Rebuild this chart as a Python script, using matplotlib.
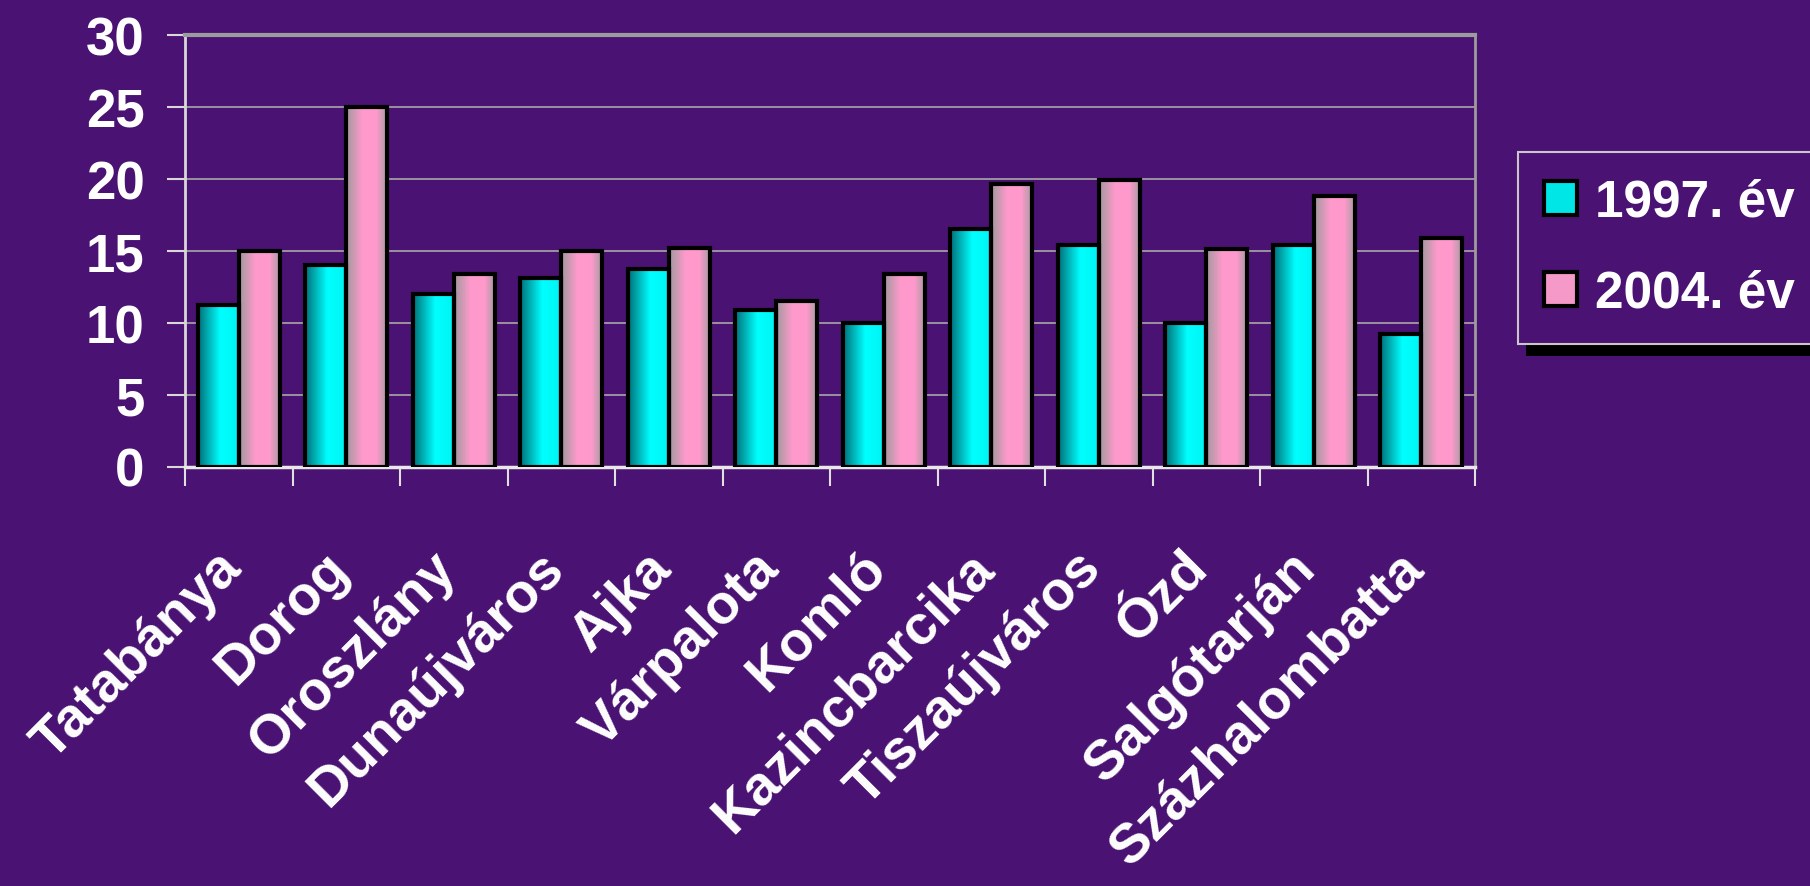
import numpy as np
import matplotlib.pyplot as plt
from matplotlib.patches import Rectangle
from matplotlib.colors import LinearSegmentedColormap
from matplotlib.ticker import MultipleLocator
from matplotlib.transforms import ScaledTranslation

# data
cities = ['Tatabánya', 'Dorog', 'Oroszlány', 'Dunaújváros', 'Ajka', 'Várpalota',
          'Komló', 'Kazincbarcika', 'Tiszaújváros', 'Ózd', 'Salgótarján', 'Százhalombatta']
y1997 = [11.2, 14.0, 12.0, 13.1, 13.7, 10.9, 10.0, 16.5, 15.4, 10.0, 15.4, 9.2]
y2004 = [15.0, 25.0, 13.4, 15.0, 15.2, 11.5, 13.4, 19.6, 19.9, 15.1, 18.8, 15.9]
series = ['1997. év', '2004. év']

BG = '#4a1272'
font = ['Liberation Sans', 'DejaVu Sans']

cyan_map = LinearSegmentedColormap.from_list(
    'cy', [(0, '#007078'), (0.55, '#00ffff'), (1, '#00f4f4')])
pink_map = LinearSegmentedColormap.from_list(
    'pk', [(0, '#a09a9c'), (0.4, '#ff99cc'), (0.75, '#ff99cc'), (1, '#a89ca2')])

fig = plt.figure(figsize=(18.1, 8.87), dpi=100, facecolor=BG)
ax = fig.add_axes([185 / 1810, 1 - 467.5 / 887, (1475 - 185) / 1810, (467.5 - 35.8) / 887])
ax.set_facecolor('none')

x = np.arange(len(cities))
w = 0.38
b1 = ax.bar(x - w / 2, y1997, w, facecolor='none', edgecolor='black', linewidth=3,
            zorder=3, label=series[0])
b2 = ax.bar(x + w / 2, y2004, w, facecolor='none', edgecolor='black', linewidth=3,
            zorder=3, label=series[1])

grad = np.linspace(0, 1, 64).reshape(1, -1)
for bars, cmap in [(b1, cyan_map), (b2, pink_map)]:
    for b in bars:
        x0, y0, bw, bh = b.get_x(), b.get_y(), b.get_width(), b.get_height()
        im = ax.imshow(grad, cmap=cmap, extent=(x0, x0 + bw, y0, y0 + bh),
                       aspect='auto', zorder=2, interpolation='bicubic')
        im.set_clip_path(b)

ax.set_xlim(-0.5, len(cities) - 0.5)
ax.set_ylim(0, 30)
ax.yaxis.set_major_locator(MultipleLocator(5))
ax.grid(axis='y', color='#a8a8a8', linewidth=1.2, zorder=1)
ax.set_axisbelow(True)

ax.spines['top'].set_color('#9c9c9c')
ax.spines['top'].set_linewidth(3)
ax.spines['right'].set_color('#9c9c9c')
ax.spines['right'].set_linewidth(2)
ax.spines['left'].set_color('#d8d8d8')
ax.spines['left'].set_linewidth(2)
ax.spines['bottom'].set_color('#e8e8e8')
ax.spines['bottom'].set_linewidth(2.5)

ax.tick_params(axis='y', length=13, width=1.5, color='#d8d8d8', pad=16,
               labelcolor='white')
for t in ax.get_yticklabels():
    t.set_fontfamily(font)
    t.set_fontsize(38)
    t.set_fontweight('bold')

# category labels, rotated, anchored just below each group
ax.set_xticks([])
ax.set_xticks(np.arange(-0.5, len(cities)), minor=True)
ax.tick_params(axis='x', which='minor', length=14, width=1.5, color='#e0e0e0')
shift = ScaledTranslation(-24 / 100, -75 / 100, fig.dpi_scale_trans)
for i, c in enumerate(cities):
    ax.text(x[i], 0, c, transform=ax.get_xaxis_transform() + shift,
            rotation=45, ha='right', va='top', rotation_mode='anchor',
            color='white', fontsize=40, fontweight='bold', family=font)

leg = fig.legend(handles=[b1, b2], labels=series, loc='upper left',
                 bbox_to_anchor=(1518 / 1810, 1 - 153 / 887), borderaxespad=0,
                 prop={'family': font, 'size': 37, 'weight': 'bold'},
                 labelcolor='white', facecolor=BG, edgecolor='#c8c8c8', framealpha=1,
                 fancybox=False, handlelength=0.64, handleheight=0.64,
                 handletextpad=0.35, labelspacing=0.82, borderpad=0.5)
leg.get_frame().set_linewidth(1.5)
for h, c in zip(leg.legend_handles, ['#00e6e6', '#f59ac8']):
    h.set_facecolor(c)
    h.set_edgecolor('black')
    h.set_linewidth(3)

# black drop shadow behind the legend box
fig.canvas.draw()
bb = leg.get_window_extent()
fig.patches.append(Rectangle((bb.x0 + 8, bb.y0 - 12), bb.width, bb.height,
                             transform=None, facecolor='black', edgecolor='none',
                             zorder=leg.get_zorder() - 1))

fig.savefig('out.png', dpi=100, facecolor=BG)
